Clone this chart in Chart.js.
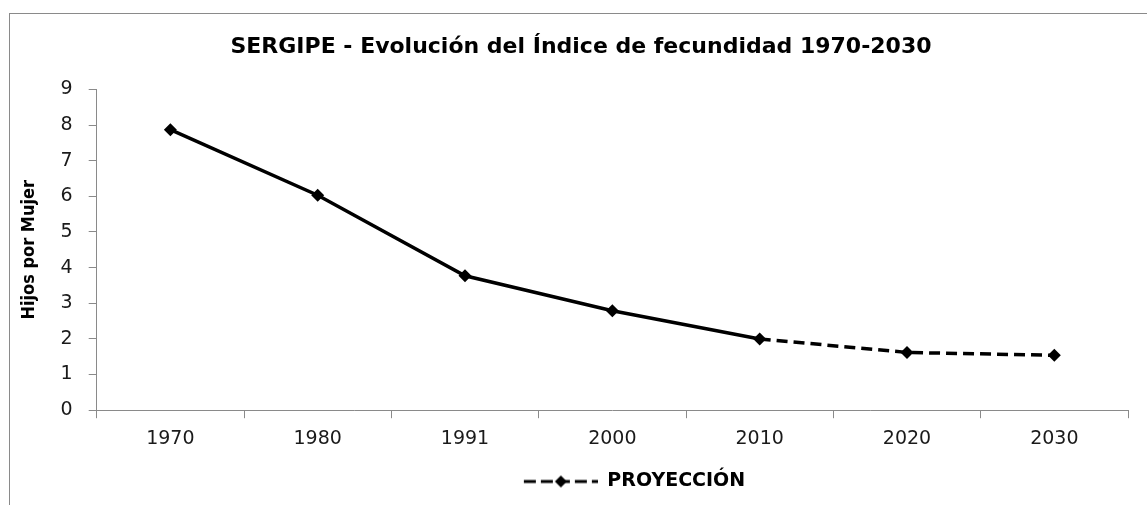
<!DOCTYPE html>
<html>
<head>
<meta charset="utf-8">
<script src="https://cdn.jsdelivr.net/npm/chart.js@4/dist/chart.umd.min.js"></script>
<style>
    html, body { margin: 0; padding: 0; background: #fff; }
    #frame {
        position: absolute; left: 9px; top: 13px; width: 1200px; height: 600px;
        border-left: 1px solid #8a8a8a; border-top: 1px solid #8a8a8a;
    }
    #chart { position: absolute; left: 0; top: 0; }
</style>
</head>
<body>
<div id="frame"></div>
<canvas id="chart" width="1147" height="505"></canvas>
<script>
// Data
const years = ['1970', '1980', '1991', '2000', '2010', '2020', '2030'];
const hijosPorMujer = [7.87, 6.03, 3.77, 2.79, 2.0, 1.62, 1.54];
const projectionFrom = '2010';   // dashed from this year on
const yTicks = [0, 1, 2, 3, 4, 5, 6, 7, 8, 9];

const titleText = 'SERGIPE - Evolución del Índice de fecundidad 1970-2030';
const yTitleText = 'Hijos por Mujer';
const legendText = 'PROYECCIÓN';

const projIndex = years.indexOf(projectionFrom);
const dashPattern = [11, 6];
const legendBoxWidth = 181;

// Small picture used as the legend symbol: dashed line with a diamond
function legendSymbol() {
    const w = legendBoxWidth, h = 16, lineLen = 74;
    const c = document.createElement('canvas');
    c.width = w; c.height = h;
    const g = c.getContext('2d');
    g.strokeStyle = '#000';
    g.lineWidth = 3;
    g.setLineDash([12, 5]);
    g.beginPath();
    g.moveTo(w - lineLen, h / 2);
    g.lineTo(w, h / 2);
    g.stroke();
    const cx = w - lineLen / 2, cy = h / 2, r = 6;
    g.fillStyle = '#000';
    g.beginPath();
    g.moveTo(cx, cy - r);
    g.lineTo(cx + r, cy);
    g.lineTo(cx, cy + r);
    g.lineTo(cx - r, cy);
    g.closePath();
    g.fill();
    return c;
}

const ctx = document.getElementById('chart').getContext('2d');

new Chart(ctx, {
    type: 'line',
    data: {
        labels: years,
        datasets: [{
            label: legendText,
            data: hijosPorMujer,
            borderColor: '#000',
            backgroundColor: '#000',
            borderWidth: 3.5,
            pointStyle: 'rectRot',
            pointRadius: 6.5,
            pointBorderWidth: 0,
            tension: 0,
            fill: false,
            segment: {
                borderDash: c => c.p0DataIndex >= projIndex ? dashPattern : undefined
            }
        }]
    },
    options: {
        responsive: false,
        devicePixelRatio: 1,
        animation: false,
        layout: { padding: { left: 34, right: 19, top: 0, bottom: 4 } },
        plugins: {
            title: {
                display: true,
                text: titleText,
                color: '#000',
                font: { family: 'DejaVu Sans', size: 22, weight: 'bold' },
                padding: { top: 34, bottom: 29 }
            },
            legend: {
                position: 'bottom',
                labels: {
                    usePointStyle: true,
                    pointStyleWidth: legendBoxWidth,
                    padding: 13,
                    color: '#000',
                    font: { family: 'DejaVu Sans', size: 19, weight: 'bold' },
                    generateLabels: () => [{
                        text: legendText,
                        pointStyle: legendSymbol(),
                        fillStyle: '#000',
                        strokeStyle: '#000',
                        lineWidth: 0,
                        hidden: false,
                        datasetIndex: 0
                    }]
                }
            },
            tooltip: { enabled: false }
        },
        scales: {
            x: {
                offset: true,
                grid: {
                    offset: true,
                    drawOnChartArea: false,
                    drawTicks: true,
                    tickLength: 8,
                    color: '#8a8a8a'
                },
                border: { color: '#8a8a8a', width: 1 },
                ticks: {
                    color: '#1a1a1a',
                    padding: 9,
                    maxRotation: 0,
                    font: { family: 'DejaVu Sans', size: 19 }
                }
            },
            y: {
                min: 0,
                max: 9,
                afterBuildTicks: axis => { axis.ticks = yTicks.map(v => ({ value: v })); },
                grid: {
                    drawOnChartArea: false,
                    drawTicks: true,
                    tickLength: 8,
                    color: '#8a8a8a'
                },
                border: { color: '#8a8a8a', width: 1 },
                ticks: {
                    color: '#1a1a1a',
                    padding: 16,
                    font: { family: 'DejaVu Sans', size: 19 }
                },
                title: {
                    display: true,
                    text: yTitleText,
                    color: '#000',
                    padding: { top: -15, bottom: 4 },
                    font: { family: "'Liberation Sans Narrow', 'DejaVu Sans Condensed', sans-serif", size: 18, weight: 'bold' }
                }
            }
        }
    }
});
</script>
</body>
</html>
